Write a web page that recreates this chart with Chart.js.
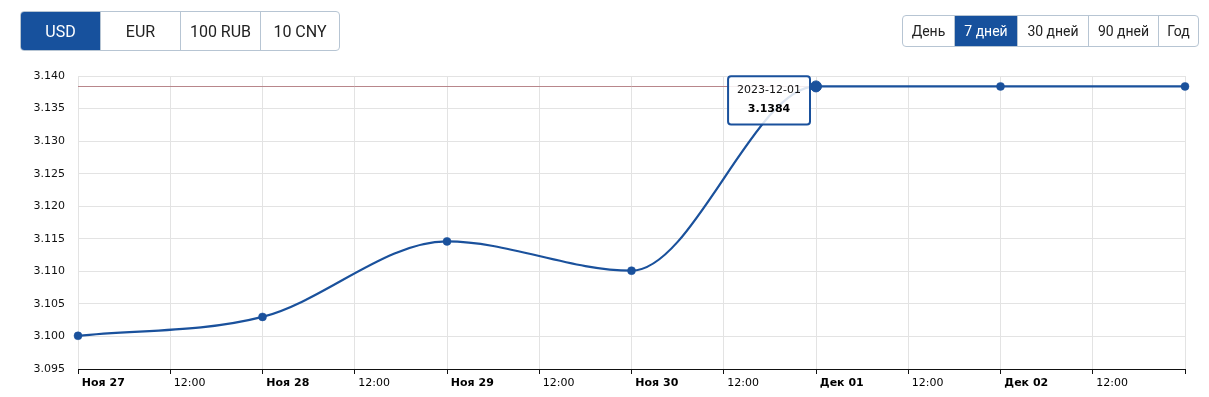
<!DOCTYPE html>
<html lang="ru">
<head>
<meta charset="utf-8">
<title>USD</title>
<script src="https://cdn.jsdelivr.net/npm/chart.js@4.4.1/dist/chart.umd.min.js"></script>
<style>
  html, body { margin: 0; padding: 0; background: #fff; }
  body { width: 1209px; height: 397px; position: relative; overflow: hidden; }
  #chart { position: absolute; left: 0; top: 0; width: 1209px; height: 397px; }
  .btn-group {
    position: absolute; display: flex; box-sizing: border-box;
    border: 1px solid #b7c5d3; border-radius: 4px; overflow: hidden;
    font-family: Roboto, "Noto Sans", sans-serif; color: #222; background: #fff;
  }
  .btn-group div {
    box-sizing: border-box; display: flex; align-items: center; justify-content: center;
    border-left: 1px solid #b7c5d3; height: 100%;
  }
  .btn-group div:first-child { border-left: none; }
  .btn-group .active { background: #17519d; color: #fff; }
  #currency { left: 20px; top: 11px; height: 40px; font-size: 16px; }
  #period { left: 902px; top: 15px; height: 32px; font-size: 14px; }
</style>
</head>
<body>
<canvas id="chart" width="1209" height="397"></canvas>

<div class="btn-group" id="currency">
  <div class="active" style="width:79px">USD</div>
  <div style="width:80px">EUR</div>
  <div style="width:80px">100 RUB</div>
  <div style="width:79px">10 CNY</div>
</div>
<div class="btn-group" id="period">
  <div style="width:51px">День</div>
  <div class="active" style="width:63px">7 дней</div>
  <div style="width:71px">30 дней</div>
  <div style="width:70px">90 дней</div>
  <div style="width:40px">Год</div>
</div>

<script>
// data
const dates = ["2023-11-27", "2023-11-28", "2023-11-29", "2023-11-30", "2023-12-01", "2023-12-02", "2023-12-03"]
const usdRates = [3.1001, 3.1030, 3.1146, 3.1101, 3.1384, 3.1384, 3.1384]
const xTickLabels = ["Ноя 27", "12:00", "Ноя 28", "12:00", "Ноя 29", "12:00", "Ноя 30", "12:00", "Дек 01", "12:00", "Дек 02", "12:00", ""]
const yMin = 3.095
const yMax = 3.140
const yStep = 0.005
const activeIndex = 4

const LINE_COLOR = "#1a519c"
const GRID_COLOR = "#e3e3e3"

// hours since the first date, so the x axis can tick every 12h
const hoursFromStart = (d) => (Date.parse(d) - Date.parse(dates[0])) / 3600000
const points = dates.map((d, i) => ({ x: hoursFromStart(d), y: usdRates[i] }))
const lastHour = hoursFromStart(dates[dates.length - 1])

Chart.defaults.font.family = "'DejaVu Sans', Verdana, sans-serif"
Chart.defaults.font.size = 11

// tooltip sits to the left of the hovered point
Chart.Tooltip.positioners.leftOfPoint = function (items) {
  if (!items.length) return false
  const el = items[0].element
  return { x: el.x, y: el.y + 14 }
}

// horizontal crosshair through the active point
const crosshair = {
  id: "crosshair",
  beforeDatasetsDraw(chart) {
    const active = chart.getActiveElements()
    if (!active.length) return
    const { ctx, chartArea } = chart
    const y = Math.round(active[0].element.y) + 0.5
    ctx.save()
    ctx.strokeStyle = "#b8868b"
    ctx.lineWidth = 1
    ctx.beginPath()
    ctx.moveTo(chartArea.left, y)
    ctx.lineTo(chartArea.right, y)
    ctx.stroke()
    ctx.restore()
  },
}

const chart = new Chart(document.getElementById("chart"), {
  type: "line",
  data: {
    datasets: [
      {
        data: points,
        borderColor: LINE_COLOR,
        borderWidth: 2.2,
        cubicInterpolationMode: "monotone",
        pointRadius: 4,
        pointBorderWidth: 0.5,
        pointBackgroundColor: LINE_COLOR,
        pointBorderColor: LINE_COLOR,
        pointHoverRadius: 5.5,
        pointHoverBorderWidth: 1,
        pointHoverBackgroundColor: LINE_COLOR,
        pointHoverBorderColor: LINE_COLOR,
        clip: false,
        fill: false,
      },
    ],
  },
  options: {
    responsive: false,
    animation: false,
    events: [],
    layout: { padding: { left: 0, top: 76, right: 24, bottom: 0 } },
    plugins: {
      legend: { display: false },
      tooltip: {
        enabled: true,
        position: "leftOfPoint",
        xAlign: "right",
        yAlign: "center",
        caretSize: 0,
        caretPadding: 6,
        backgroundColor: "rgba(255,255,255,0.85)",
        borderColor: LINE_COLOR,
        borderWidth: 2,
        cornerRadius: 3,
        padding: { top: 7, bottom: 9, left: 9, right: 9 },
        titleFont: { size: 11, weight: "normal" },
        titleColor: "#111",
        titleAlign: "center",
        titleMarginBottom: 6,
        bodyFont: { size: 11, weight: "bold" },
        bodyColor: "#000",
        bodyAlign: "center",
        displayColors: false,
        callbacks: {
          title: (items) => dates[items[0].dataIndex],
          label: (item) => item.parsed.y.toFixed(4),
        },
      },
    },
    scales: {
      x: {
        type: "linear",
        min: 0,
        max: lastHour,
        afterFit: (scale) => { scale.height = 28 },
        grid: { color: GRID_COLOR, tickColor: "#111", tickLength: 5 },
        border: { color: "#111", width: 1 },
        ticks: {
          stepSize: 12,
          maxTicksLimit: 20,
          autoSkip: false,
          maxRotation: 0,
          align: "start",
          padding: 3,
          color: "#000",
          font: (ctx) => ({ size: 11, weight: ctx.index % 2 === 0 ? "bold" : "normal" }),
          callback: (value, index) => (xTickLabels[index] ? " " + xTickLabels[index] : ""),
        },
      },
      y: {
        min: yMin,
        max: yMax,
        afterFit: (scale) => { scale.width = 78 },
        grid: { color: GRID_COLOR, drawTicks: false },
        border: { display: false },
        ticks: {
          stepSize: yStep,
          padding: 13,
          color: "#111",
          callback: (value) => value.toFixed(3),
        },
      },
    },
  },
  plugins: [crosshair],
})

chart.setActiveElements([{ datasetIndex: 0, index: activeIndex }])
chart.tooltip.setActiveElements([{ datasetIndex: 0, index: activeIndex }], { x: 0, y: 0 })
chart.update()
</script>
</body>
</html>
